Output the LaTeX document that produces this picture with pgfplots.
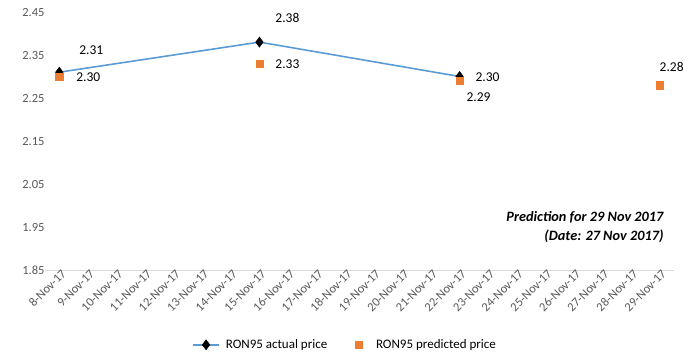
\documentclass[border=0pt]{standalone}
\usepackage{pgfplots}
\pgfplotsset{compat=1.18}
\usepackage{fontspec}
\setmainfont{Carlito}
\definecolor{lineblue}{HTML}{5B9BD5}
\definecolor{predorange}{HTML}{ED7D31}
\definecolor{ticktext}{HTML}{595959}
\definecolor{axisgray}{HTML}{D9D9D9}
\pgfplotsset{
  linelegend/.style={legend image code/.code={\draw[##1, mark repeat=2, mark phase=2] plot coordinates {(0bp,0bp) (13bp,0bp) (26bp,0bp)};}},
  marklegend/.style={legend image code/.code={\draw[##1] plot coordinates {(3bp,0bp)}; \path (0bp,0bp) (14bp,0bp);}},
}
\begin{document}
\begin{tikzpicture}
\begin{axis}[
  at={(0,0)}, anchor=south west,
  scale only axis,
  width=629bp, height=258bp,
  xmin=-0.5, xmax=21.5,
  ymin=1.85, ymax=2.45,
  axis lines*=left,
  x axis line style={draw=axisgray, line width=0.8pt},
  y axis line style={draw=none},
  ytick={1.85,1.95,2.05,2.15,2.25,2.35,2.45},
  ytick style={draw=none},
  yticklabel style={/pgf/number format/fixed, /pgf/number format/precision=2, /pgf/number format/fixed zerofill, /pgf/number format/assume math mode=true, font=\fontsize{12.5bp}{14bp}\selectfont, text=ticktext, xshift=3bp},
  xtick={0,...,21},
  xticklabels={8-Nov-17,9-Nov-17,10-Nov-17,11-Nov-17,12-Nov-17,13-Nov-17,14-Nov-17,15-Nov-17,16-Nov-17,17-Nov-17,18-Nov-17,19-Nov-17,20-Nov-17,21-Nov-17,22-Nov-17,23-Nov-17,24-Nov-17,25-Nov-17,26-Nov-17,27-Nov-17,28-Nov-17,29-Nov-17},
  xticklabel style={rotate=45, anchor=north east, font=\fontsize{12.5bp}{14bp}\selectfont, text=ticktext, inner sep=1pt, xshift=3bp, yshift=1bp},
  major x tick style={draw=none},
  extra x ticks={-0.5,0.5,1.5,2.5,3.5,4.5,5.5,6.5,7.5,8.5,9.5,10.5,11.5,12.5,13.5,14.5,15.5,16.5,17.5,18.5,19.5,20.5,21.5},
  extra x tick labels={},
  extra x tick style={tick align=outside, major tick length=5bp, tick style={draw=axisgray, line width=0.8pt}},
  tick pos=left,
  clip=false,
  legend columns=2,
  legend style={at={(0.477,-0.29)}, anchor=center, draw=none, fill=none, font=\fontsize{13bp}{15bp}\selectfont,
    /tikz/every odd column/.append style={column sep=4bp},
    /tikz/every even column/.append style={column sep=26bp}},
  legend cell align=left,
]
\addplot[lineblue, line width=1.6pt, mark=diamond*, mark size=5bp, mark options={fill=black, draw=black, line width=0.5pt}, linelegend]
  coordinates {(0,2.31) (7,2.38) (14,2.30)};
\addlegendentry{RON95 actual price}
\addplot[only marks, mark=square*, mark size=3.6bp, mark options={fill=predorange, draw=predorange}, marklegend]
  coordinates {(0,2.30) (7,2.33) (14,2.29) (21,2.28)};
\addlegendentry{RON95 predicted price}

\begin{scope}[every node/.style={font=\fontsize{13.5bp}{15bp}\selectfont, inner sep=0pt}]
\node at (axis cs:0,2.31) [xshift=32bp, yshift=22bp] {2.31};
\node at (axis cs:0,2.30) [xshift=29bp, yshift=-0.5bp] {2.30};
\node at (axis cs:7,2.38) [xshift=28bp, yshift=24bp] {2.38};
\node at (axis cs:7,2.33) [xshift=28bp, yshift=-1bp] {2.33};
\node at (axis cs:14,2.30) [xshift=28bp, yshift=-1bp] {2.30};
\node at (axis cs:14,2.29) [xshift=19bp, yshift=-16bp] {2.29};
\node at (axis cs:21,2.28) [xshift=12bp, yshift=18bp] {2.28};
\end{scope}
\node[anchor=east, align=right, font=\fontsize{14.3bp}{19bp}\selectfont\bfseries\itshape, inner sep=0pt] at (axis cs:21.14,1.949) {Prediction for 29 Nov 2017\\(Date: 27 Nov 2017)};
\end{axis}
\useasboundingbox (-45bp,-91bp) rectangle (644bp,270bp);
\end{tikzpicture}
\end{document}
